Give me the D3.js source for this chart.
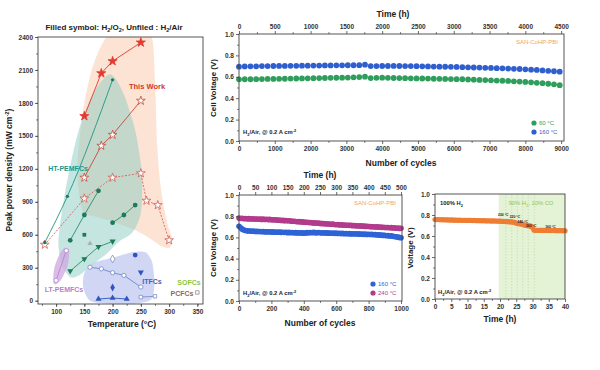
<!DOCTYPE html>
<html>
<head>
<meta charset="utf-8">
<script src="https://cdn.jsdelivr.net/npm/d3@7"></script>
<style>
body { margin: 0; background: #fff; }
text { font-family: "Liberation Sans", Arial, sans-serif; }
</style>
</head>
<body>
<script>
// ---------- left panel: peak power density vs temperature ----------
const tempTicks = [100, 150, 200, 250, 300, 350];
const ppdTicks = [0, 300, 600, 900, 1200, 1500, 1800, 2100, 2400];

const thisWorkO2 = [[150, 1680], [180, 2070], [200, 2180], [250, 2350]];
const thisWorkAir = [[150, 1120], [180, 1410], [200, 1510], [250, 1820]];
const thisWorkAirT = [[80, 510], [150, 930], [200, 1120], [250, 1160], [260, 910], [280, 870], [300, 550]];
const htTealLine = [[80, 530], [120, 950], [200, 2010]];
const htHexLine = [[125, 550], [150, 780], [175, 1000]];
const htHexLine2 = [[200, 710], [220, 780], [240, 870]];
const htHexSingle = [[150, 600]];
const htTriLine = [[125, 270], [150, 380], [175, 490], [200, 540]];
const htGreyTri = [[160, 520]];
const ltLine = [[100, 185], [118, 455]];
const itCircleLine = [[160, 305], [180, 290], [200, 255], [220, 230], [250, 125]];
const itDiamondOpen = [[200, 380]];
const itHex = [[240, 415]];
const itTriDown = [[250, 260]];
const itDiamond = [[200, 120]];
const itTriUpLine = [[175, 15], [200, 25], [225, 15]];
const itSquareLine = [[250, 33], [275, 40]];
const pcfcPoint = [[350, 75]];

const peachRegion = [[148, 800], [140, 1000], [137, 1200], [142, 1500], [150, 1800], [163, 2100], [178, 2300], [195, 2430], [230, 2480], [268, 2420], [275, 2000], [279, 1400], [286, 1000], [297, 700], [306, 560], [300, 480], [285, 500], [268, 560], [245, 630], [200, 720], [165, 770]];
const tealRegion = [[125, 215], [110, 330], [104, 520], [110, 800], [122, 1150], [140, 1550], [165, 1880], [195, 2060], [218, 1900], [240, 1550], [252, 1150], [250, 800], [235, 620], [212, 540], [190, 430], [160, 310], [140, 230]];
const blueRegion = [[150, 250], [165, 340], [200, 390], [235, 440], [258, 440], [270, 350], [274, 150], [268, 10], [240, -25], [190, -25], [160, 0], [148, 120]];
const purpleRegion = [[95, 170], [97, 300], [106, 420], [115, 480], [123, 460], [121, 330], [110, 200], [100, 150]];

// ---------- top right: long-term cycling ----------
const cyclesLong = [0, 160, 320, 480, 640, 800, 960, 1120, 1280, 1440, 1600, 1760, 1920, 2080, 2240, 2400, 2560, 2720, 2880, 3040, 3200, 3360, 3520, 3680, 3840, 4000, 4160, 4320, 4480, 4640, 4800, 4960, 5120, 5280, 5440, 5600, 5760, 5920, 6080, 6240, 6400, 6560, 6720, 6880, 7040, 7200, 7360, 7520, 7680, 7840, 8000, 8160, 8320, 8480, 8640, 8800, 8960];
const v160Long = [0.695, 0.697, 0.698, 0.698, 0.700, 0.700, 0.701, 0.702, 0.702, 0.703, 0.703, 0.704, 0.704, 0.705, 0.705, 0.706, 0.706, 0.707, 0.707, 0.708, 0.708, 0.709, 0.713, 0.700, 0.700, 0.701, 0.701, 0.702, 0.701, 0.700, 0.700, 0.699, 0.698, 0.697, 0.696, 0.695, 0.694, 0.693, 0.692, 0.690, 0.689, 0.687, 0.686, 0.684, 0.683, 0.681, 0.679, 0.677, 0.675, 0.673, 0.670, 0.667, 0.664, 0.660, 0.656, 0.652, 0.648];
const v60Long = [0.576, 0.577, 0.577, 0.578, 0.579, 0.580, 0.580, 0.581, 0.582, 0.583, 0.584, 0.585, 0.586, 0.587, 0.588, 0.589, 0.590, 0.591, 0.592, 0.593, 0.595, 0.597, 0.601, 0.588, 0.590, 0.592, 0.590, 0.589, 0.588, 0.587, 0.586, 0.585, 0.584, 0.583, 0.582, 0.581, 0.580, 0.579, 0.578, 0.577, 0.575, 0.573, 0.571, 0.569, 0.567, 0.565, 0.563, 0.561, 0.558, 0.555, 0.552, 0.548, 0.544, 0.540, 0.535, 0.530, 0.522];
const cycleTicksLong = [0, 1000, 2000, 3000, 4000, 5000, 6000, 7000, 8000, 9000];
const timeTicksLong = [0, 500, 1000, 1500, 2000, 2500, 3000, 3500, 4000, 4500];

// ---------- bottom middle: 1000 cycles ----------
const cyclesShort = [0, 10, 20, 30, 40, 50, 60, 70, 80, 90, 100, 110, 120, 130, 140, 150, 160, 170, 180, 190, 200, 210, 220, 230, 240, 250, 260, 270, 280, 290, 300, 310, 320, 330, 340, 350, 360, 370, 380, 390, 400, 410, 420, 430, 440, 450, 460, 470, 480, 490, 500, 510, 520, 530, 540, 550, 560, 570, 580, 590, 600, 610, 620, 630, 640, 650, 660, 670, 680, 690, 700, 710, 720, 730, 740, 750, 760, 770, 780, 790, 800, 810, 820, 830, 840, 850, 860, 870, 880, 890, 900, 910, 920, 930, 940, 950, 960, 970, 980, 990, 1000];
const v240Short = [0.782, 0.778, 0.780, 0.776, 0.779, 0.775, 0.777, 0.774, 0.776, 0.773, 0.772, 0.774, 0.771, 0.773, 0.770, 0.772, 0.769, 0.771, 0.768, 0.770, 0.766, 0.767, 0.764, 0.766, 0.762, 0.763, 0.760, 0.761, 0.758, 0.759, 0.756, 0.757, 0.754, 0.752, 0.753, 0.750, 0.748, 0.749, 0.746, 0.747, 0.744, 0.742, 0.743, 0.740, 0.741, 0.738, 0.736, 0.737, 0.734, 0.735, 0.732, 0.730, 0.731, 0.728, 0.729, 0.726, 0.727, 0.724, 0.725, 0.722, 0.720, 0.721, 0.718, 0.719, 0.716, 0.717, 0.714, 0.715, 0.713, 0.714, 0.711, 0.712, 0.709, 0.710, 0.708, 0.709, 0.706, 0.707, 0.704, 0.705, 0.703, 0.702, 0.700, 0.701, 0.698, 0.699, 0.697, 0.698, 0.695, 0.696, 0.694, 0.693, 0.694, 0.691, 0.692, 0.689, 0.690, 0.687, 0.688, 0.685, 0.686];
const v160Short = [0.705, 0.690, 0.678, 0.670, 0.665, 0.662, 0.660, 0.661, 0.658, 0.659, 0.656, 0.657, 0.655, 0.656, 0.653, 0.655, 0.652, 0.654, 0.651, 0.653, 0.650, 0.652, 0.649, 0.651, 0.648, 0.650, 0.647, 0.649, 0.646, 0.648, 0.645, 0.647, 0.644, 0.646, 0.643, 0.645, 0.642, 0.644, 0.641, 0.643, 0.640, 0.642, 0.645, 0.643, 0.646, 0.644, 0.647, 0.645, 0.643, 0.646, 0.644, 0.642, 0.644, 0.641, 0.643, 0.640, 0.642, 0.639, 0.641, 0.638, 0.640, 0.637, 0.639, 0.636, 0.638, 0.635, 0.637, 0.634, 0.636, 0.633, 0.635, 0.632, 0.634, 0.631, 0.633, 0.630, 0.632, 0.629, 0.631, 0.628, 0.630, 0.627, 0.629, 0.625, 0.627, 0.623, 0.625, 0.621, 0.623, 0.619, 0.620, 0.616, 0.617, 0.613, 0.614, 0.610, 0.608, 0.605, 0.603, 0.600, 0.596];
const cycleTicksShort = [0, 200, 400, 600, 800, 1000];
const timeTicksShort = [0, 50, 100, 150, 200, 250, 300, 350, 400, 450, 500];

// ---------- bottom right: CO tolerance ----------
const timeCO = [0, 0.5, 1, 1.5, 2, 2.5, 3, 3.5, 4, 4.5, 5, 5.5, 6, 6.5, 7, 7.5, 8, 8.5, 9, 9.5, 10, 10.5, 11, 11.5, 12, 12.5, 13, 13.5, 14, 14.5, 15, 15.5, 16, 16.5, 17, 17.5, 18, 18.5, 19, 19.5, 20, 20.5, 21, 21.5, 22, 22.5, 23, 23.5, 24, 24.5, 25, 25.5, 26, 26.5, 27, 27.5, 28, 28.5, 29, 29.5, 30, 30.5, 31, 31.5, 32, 32.5, 33, 33.5, 34, 34.5, 35, 35.5, 36, 36.5, 37, 37.5, 38, 38.5, 39, 39.5, 40];
const vCO = [0.757, 0.756, 0.757, 0.755, 0.756, 0.754, 0.755, 0.753, 0.754, 0.752, 0.753, 0.752, 0.751, 0.752, 0.750, 0.751, 0.750, 0.749, 0.750, 0.749, 0.748, 0.749, 0.748, 0.747, 0.748, 0.747, 0.746, 0.747, 0.746, 0.745, 0.746, 0.745, 0.744, 0.745, 0.744, 0.743, 0.744, 0.743, 0.742, 0.742, 0.741, 0.740, 0.739, 0.738, 0.737, 0.736, 0.735, 0.734, 0.733, 0.731, 0.722, 0.718, 0.716, 0.714, 0.712, 0.705, 0.700, 0.698, 0.696, 0.694, 0.680, 0.655, 0.654, 0.655, 0.654, 0.653, 0.654, 0.653, 0.654, 0.653, 0.652, 0.653, 0.652, 0.653, 0.652, 0.651, 0.652, 0.651, 0.652, 0.651, 0.650];
const coStart = 19.6;
const coSwitchTimes = [21.8, 23.6, 25.3, 27.0, 28.7, 30.6];
const coTempLabels = [["200 °C", 21, 0.79], ["220 °C", 24.6, 0.77], ["240 °C", 27, 0.72], ["260 °C", 29.6, 0.69], ["160 °C", 35.5, 0.68]];
const timeTicksCO = [0, 5, 10, 15, 20, 25, 30, 35, 40];
const voltTicks = [0, 0.2, 0.4, 0.6, 0.8, 1.0];

// ---------- drawing ----------
const svg = d3.select("body").append("svg").attr("width", 600).attr("height", 370);
const fmt1 = d3.format(".1f");
const font = 6.5;

function rich(text, parts, size) {
  let shift = 0;
  parts.forEach(p => {
    const t = text.append("tspan").text(p[0]);
    let target = 0;
    if (p[1] === 1) target = size * 0.3;
    if (p[1] === 2) target = -size * 0.4;
    if (target !== shift) { t.attr("dy", target - shift); shift = target; }
    if (p[1]) t.attr("font-size", size * 0.68);
  });
}

function styleAxis(g) {
  g.select(".domain").remove();
  g.selectAll(".tick line").attr("stroke", "#444").attr("stroke-width", 0.8);
  g.selectAll(".tick text").attr("font-size", font).attr("font-weight", "bold")
    .attr("fill", "#333").attr("font-family", "Liberation Sans, Arial, sans-serif");
}

function addAxis(g, axisFn, scale, major, minor, fmt, transform) {
  g.append("g").attr("transform", transform)
    .call(axisFn(scale).tickValues(minor).tickSize(1.8).tickFormat(""))
    .call(styleAxis);
  g.append("g").attr("transform", transform)
    .call(axisFn(scale).tickValues(major).tickSize(3).tickPadding(2).tickFormat(fmt))
    .call(styleAxis);
}

function frame(g, x, y) {
  g.append("rect")
    .attr("x", x.range()[0]).attr("y", y.range()[1])
    .attr("width", x.range()[1] - x.range()[0]).attr("height", y.range()[0] - y.range()[1])
    .attr("fill", "none").attr("stroke", "#444").attr("stroke-width", 0.9);
}

function label(g, x, y, txt, size, opts = {}) {
  const t = g.append("text").attr("x", x).attr("y", y)
    .attr("font-size", size).attr("font-weight", opts.weight || "bold")
    .attr("fill", opts.fill || "#222").attr("text-anchor", opts.anchor || "middle");
  if (opts.rotate) t.attr("transform", `rotate(-90,${x},${y})`);
  if (Array.isArray(txt)) rich(t, txt, size); else t.text(txt);
  return t;
}

// ===== left panel =====
const gL = svg.append("g");
const xL = d3.scaleLinear().domain([68, 360]).range([38, 203]);
const yL = d3.scaleLinear().domain([-30, 2400]).range([304, 37]);

gL.append("clipPath").attr("id", "clipL").append("rect")
  .attr("x", 38).attr("y", 37).attr("width", 165).attr("height", 267);
const regions = gL.append("g").attr("clip-path", "url(#clipL)");
const blob = d3.line().x(d => xL(d[0])).y(d => yL(d[1])).curve(d3.curveCardinalClosed.tension(0.2));
regions.append("path").attr("d", blob(peachRegion)).attr("fill", "#f9ccae").attr("opacity", 0.55);
regions.append("path").attr("d", blob(tealRegion)).attr("fill", "#8ccbc3").attr("opacity", 0.5);
regions.append("path").attr("d", blob(blueRegion)).attr("fill", "#bcc5ee").attr("opacity", 0.7);
regions.append("path").attr("d", blob(purpleRegion)).attr("fill", "#cfa6e0").attr("opacity", 0.75);

const lineL = d3.line().x(d => xL(d[0])).y(d => yL(d[1]));
const curveL = d3.line().x(d => xL(d[0])).y(d => yL(d[1])).curve(d3.curveMonotoneX);

function series(data, opts) {
  if (opts.line) {
    gL.append("path").attr("d", (opts.curve ? curveL : lineL)(data))
      .attr("fill", "none").attr("stroke", opts.line).attr("stroke-width", opts.lw || 0.9)
      .attr("stroke-dasharray", opts.dash || null);
  }
  if (opts.symbol) {
    gL.selectAll(null).data(data).enter().append("path")
      .attr("d", d3.symbol(opts.symbol).size(opts.size || 18))
      .attr("transform", d => `translate(${xL(d[0])},${yL(d[1])})${opts.rot ? " rotate(" + opts.rot + ")" : ""}`)
      .attr("fill", opts.fill || "#fff").attr("stroke", opts.stroke || "none").attr("stroke-width", 0.8);
  }
}

series(thisWorkAirT, { line: "#d8675f", dash: "2,1.5", symbol: d3.symbolStar, size: 24, fill: "#fff", stroke: "#cc5e58" });
series(htTealLine, { line: "#1f9684", curve: true, symbol: d3.symbolCircle, size: 9, fill: "#1f7a63" });
series(thisWorkAir, { line: "#c2493f", symbol: d3.symbolStar, size: 24, fill: "#fff", stroke: "#c2493f" });
series(thisWorkO2, { line: "#e3392e", symbol: d3.symbolStar, size: 26, fill: "#e3392e", stroke: "#e3392e" });
series(htHexLine, { line: "#2a8d6c", symbol: d3.symbolCircle, size: 18, fill: "#1e7a5c" });
series(htHexLine2, { line: "#2a8d6c", symbol: d3.symbolCircle, size: 18, fill: "#1e7a5c" });
series(htHexSingle, { symbol: d3.symbolSquare, size: 14, fill: "#1e7a5c" });
series(htTriLine, { line: "#2a8d6c", symbol: d3.symbolTriangle, size: 16, fill: "#1e7a5c", rot: 180 });
series(htGreyTri, { symbol: d3.symbolTriangle, size: 12, fill: "#a8b0ac" });
series(ltLine, { line: "#b488c8", symbol: d3.symbolCircle, size: 14, fill: "#fff", stroke: "#b488c8" });
series(itCircleLine, { line: "#6f88c8", symbol: d3.symbolCircle, size: 14, fill: "#fff", stroke: "#6f88c8" });
series(itDiamondOpen, { symbol: d3.symbolDiamond, size: 18, fill: "#fff", stroke: "#7d8fc4" });
series(itHex, { symbol: d3.symbolCircle, size: 18, fill: "#2d55bd" });
series(itTriDown, { symbol: d3.symbolTriangle, size: 16, fill: "#2d55bd", rot: 180 });
series(itDiamond, { symbol: d3.symbolDiamond, size: 18, fill: "#2d55bd" });
series(itTriUpLine, { line: "#2d55bd", symbol: d3.symbolTriangle, size: 16, fill: "#2d55bd" });
series(itSquareLine, { line: "#7d8fc4", symbol: d3.symbolSquare, size: 12, fill: "#fff", stroke: "#7d8fc4" });
series(pcfcPoint, { symbol: d3.symbolSquare, size: 12, fill: "#fff", stroke: "#9a8a8a" });

addAxis(gL, d3.axisLeft, yL, ppdTicks, d3.range(0, 2401, 150), d => d, "translate(38,0)");
addAxis(gL, d3.axisBottom, xL, tempTicks, d3.range(75, 360, 25), d => d, "translate(0,304)");
frame(gL, xL, yL);

label(gL, 114, 30, [["Filled symbol: H", 0], ["2", 1], ["/O", 0], ["2", 1], [", Unfiled : H", 0], ["2", 1], ["/Air", 0]], 8);
label(gL, 12, 170, [["Peak power density (mW cm", 0], ["-2", 2], [")", 0]], 8.5, { rotate: true });
label(gL, 122, 327, "Temperature (°C)", 8.5);
label(gL, 147, 89, "This Work", 7.5, { fill: "#d2362c" });
label(gL, 68, 171, "HT-PEMFCs", 7, { fill: "#1a978a" });
label(gL, 64, 292, "LT-PEMFCs", 7, { fill: "#b383c8", weight: "bold" });
label(gL, 152, 284, "ITFCs", 7, { fill: "#3f63c2" });
label(gL, 189, 285, "SOFCs", 7, { fill: "#8cc63f" });
label(gL, 182, 296, "PCFCs", 7, { fill: "#8a6868" });

// ===== top right panel =====
const gT = svg.append("g");
const xT = d3.scaleLinear().domain([0, 9080]).range([239, 564]);
const tT = d3.scaleLinear().domain([0, 4540]).range([239, 564]);
const yT = d3.scaleLinear().domain([0, 1]).range([141, 34]);

const colGreen = "#2f9e5c";
const colBlue = "#2f5fce";
const longData = cyclesLong.map((c, i) => ({ c, a: v60Long[i], b: v160Long[i] }));
gT.selectAll(".g60").data(longData).enter().append("circle")
  .attr("cx", d => xT(d.c)).attr("cy", d => yT(d.a)).attr("r", 2.9).attr("fill", colGreen);
gT.selectAll(".g160").data(longData).enter().append("circle")
  .attr("cx", d => xT(d.c)).attr("cy", d => yT(d.b)).attr("r", 2.9).attr("fill", colBlue);

addAxis(gT, d3.axisLeft, yT, voltTicks, d3.range(0.1, 1, 0.2), fmt1, "translate(239,0)");
addAxis(gT, d3.axisBottom, xT, cycleTicksLong, d3.range(500, 9000, 1000), d => d, "translate(0,141)");
addAxis(gT, d3.axisTop, tT, timeTicksLong, d3.range(250, 4500, 500), d => d, "translate(0,34)");
frame(gT, xT, yT);

label(gT, 393, 17, "Time (h)", 8.5);
label(gT, 401, 166, "Number of cycles", 8.5);
label(gT, 216, 88, "Cell Voltage (V)", 8, { rotate: true });
label(gT, 558, 44, "SAN-CoHP-PBI", 6, { fill: "#f0a46a", anchor: "end", weight: "normal" });
label(gT, 243, 134, [["H", 0], ["2", 1], ["/Air, @ 0.2 A cm", 0], ["-2", 2]], 5.8, { anchor: "start" });
const legT = [["60 °C", colGreen, 123], ["160 °C", colBlue, 132]];
legT.forEach(l => {
  gT.append("circle").attr("cx", 534).attr("cy", l[2]).attr("r", 2.6).attr("fill", l[1]);
  label(gT, 539, l[2] + 2, l[0], 6, { fill: l[1], anchor: "start", weight: "normal" });
});

// ===== bottom middle panel =====
const gM = svg.append("g");
const xM = d3.scaleLinear().domain([0, 1006]).range([239, 402]);
const tM = d3.scaleLinear().domain([0, 503]).range([239, 402]);
const yM = d3.scaleLinear().domain([0, 1]).range([301, 195]);
const colMag = "#b23b8c";
const colBlue2 = "#2d63d6";
const shortData = cyclesShort.map((c, i) => ({ c, a: v240Short[i], b: v160Short[i] }));
gM.selectAll(".m240").data(shortData).enter().append("circle")
  .attr("cx", d => xM(d.c)).attr("cy", d => yM(d.a)).attr("r", 2.8).attr("fill", colMag);
gM.selectAll(".m160").data(shortData).enter().append("circle")
  .attr("cx", d => xM(d.c)).attr("cy", d => yM(d.b)).attr("r", 2.8).attr("fill", colBlue2);

addAxis(gM, d3.axisLeft, yM, voltTicks, d3.range(0.1, 1, 0.2), fmt1, "translate(239,0)");
addAxis(gM, d3.axisBottom, xM, cycleTicksShort, d3.range(100, 1000, 200), d => d, "translate(0,301)");
addAxis(gM, d3.axisTop, tM, timeTicksShort, [], d => d, "translate(0,195)");
frame(gM, xM, yM);

label(gM, 320, 178, "Time (h)", 8.5);
label(gM, 320, 326, "Number of cycles", 8.5);
label(gM, 216, 248, "Cell Voltage (V)", 8, { rotate: true });
label(gM, 396, 205, "SAN-CoHP-PBI", 6, { fill: "#f0a46a", anchor: "end", weight: "normal" });
label(gM, 243, 295, [["H", 0], ["2", 1], ["/Air, @ 0.2 A cm", 0], ["-2", 2]], 5.8, { anchor: "start" });
const legM = [["160 °C", colBlue2, 284], ["240 °C", colMag, 293]];
legM.forEach(l => {
  gM.append("circle").attr("cx", 373).attr("cy", l[2]).attr("r", 2.6).attr("fill", l[1]);
  label(gM, 378, l[2] + 2, l[0], 6, { fill: l[1], anchor: "start", weight: "normal" });
});

// ===== bottom right panel =====
const gR = svg.append("g");
const xR = d3.scaleLinear().domain([0, 40]).range([435, 565]);
const yR = d3.scaleLinear().domain([0, 1]).range([299, 194]);
gR.append("rect").attr("x", xR(coStart)).attr("y", 194)
  .attr("width", xR(40) - xR(coStart)).attr("height", 105).attr("fill", "#e4f2d6");
gR.selectAll(".sw").data(coSwitchTimes).enter().append("line")
  .attr("x1", d => xR(d)).attr("x2", d => xR(d)).attr("y1", 194).attr("y2", 299)
  .attr("stroke", "#b9d7a6").attr("stroke-width", 0.6).attr("stroke-dasharray", "1.5,1.5");
const coData = timeCO.map((t, i) => ({ t, v: vCO[i] }));
gR.selectAll(".co").data(coData).enter().append("circle")
  .attr("cx", d => xR(d.t)).attr("cy", d => yR(d.v)).attr("r", 2.6).attr("fill", "#ee7d33");

addAxis(gR, d3.axisLeft, yR, voltTicks, d3.range(0.1, 1, 0.2), fmt1, "translate(435,0)");
addAxis(gR, d3.axisBottom, xR, timeTicksCO, d3.range(2.5, 40, 5), d => d, "translate(0,299)");
frame(gR, xR, yR);

label(gR, 500, 322, "Time (h)", 8.5);
label(gR, 413, 248, "Voltage (V)", 8, { rotate: true });
label(gR, 440, 205, [["100% H", 0], ["2", 1]], 5.8, { anchor: "start" });
label(gR, 531, 205, [["90% H", 0], ["2", 1], [", 10% CO", 0]], 5.8, { fill: "#8cc55a", weight: "normal" });
coTempLabels.forEach(l => label(gR, xR(l[1]), yR(l[2]), l[0], 3.4));
label(gR, 438, 294, [["H", 0], ["2", 1], ["/Air, @ 0.2 A cm", 0], ["-2", 2]], 5.8, { anchor: "start" });
</script>
</body>
</html>
